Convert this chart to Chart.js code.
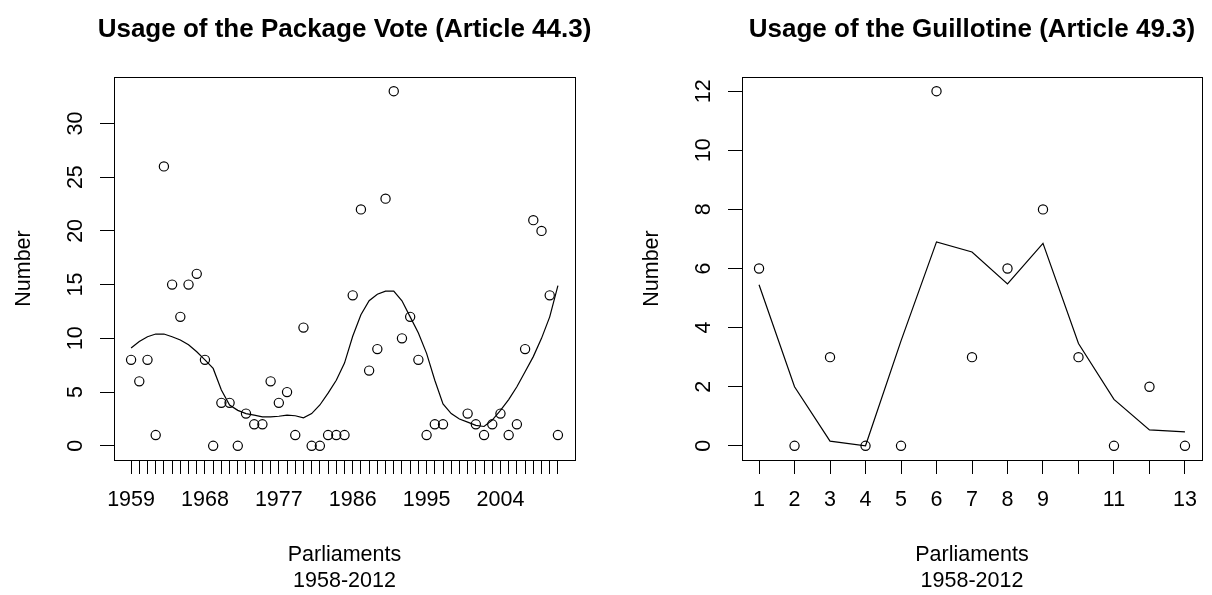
<!DOCTYPE html>
<html>
<head>
<meta charset="utf-8">
<script src="https://cdn.jsdelivr.net/npm/chart.js@4.4.1/dist/chart.umd.min.js"></script>
<style>
  html, body { margin:0; padding:0; background:#fff; }
  .wrap { width:1212px; height:595px; display:flex; }
  .panel { position:relative; width:606px; height:595px; }
</style>
</head>
<body>
<div class="wrap">
  <div class="panel"><canvas id="chartVote"></canvas></div>
  <div class="panel"><canvas id="chartGuillotine"></canvas></div>
</div>
<script>
/* ===== DATA ===== */
// Left panel: package vote (44.3), one value per year
const years = [1959,1960,1961,1962,1963,1964,1965,1966,1967,1968,
               1969,1970,1971,1972,1973,1974,1975,1976,1977,1978,
               1979,1980,1981,1982,1983,1984,1985,1986,1987,1988,
               1989,1990,1991,1992,1993,1994,1995,1996,1997,1998,
               1999,2000,2001,2002,2003,2004,2005,2006,2007,2008,
               2009,2010,2011];
const packageVotes = [8,6,8,1,26,15,12,15,16,8,
                      0,4,4,0,3,2,2,6,4,5,
                      1,11,0,0,1,1,1,14,22,7,
                      9,23,33,10,12,8,1,2,2,null,
                      null,3,2,1,2,3,1,2,9,21,
                      20,14,1];
const packageSmooth = [9.1,9.7,10.15,10.4,10.4,10.15,9.85,9.4,8.75,8.0,
                       7.2,5.2,3.8,3.3,3.0,2.85,2.7,2.7,2.75,2.85,
                       2.8,2.6,3.0,3.8,4.9,6.1,7.7,10.2,12.2,13.5,
                       14.1,14.4,14.4,13.5,12.0,10.5,8.6,6.1,3.9,3.0,
                       2.5,2.2,1.9,1.8,2.4,3.3,4.3,5.5,6.9,8.3,
                       10.0,12.0,14.9];
const yearLabels = [1959,1968,1977,1986,1995,2004];
const voteTicks = [0,5,10,15,20,25,30];

// Right panel: guillotine (49.3), one value per parliament
const parliaments = [1,2,3,4,5,6,7,8,9,10,11,12,13];
const guillotine = [6,0,3,0,0,12,3,6,8,3,0,2,0];
const guillotineSmooth = [5.45,2.0,0.16,0.0,3.55,6.9,6.56,5.48,6.85,3.46,1.57,0.54,0.47];
const parliamentLabels = [1,2,3,4,5,6,7,8,9,11,13];
const guillotineTicks = [0,2,4,6,8,10,12];

/* ===== CHARTS ===== */
const FONT = "'Liberation Sans', Arial, Helvetica, sans-serif";
const FS = 21.5;
Chart.defaults.font.family = FONT;
Chart.defaults.color = '#000';

// box around the plot + bold main title
const boxPlugin = {
  id: 'box',
  afterDraw(chart, args, opts) {
    const a = chart.chartArea, ctx = chart.ctx;
    ctx.save();
    ctx.strokeStyle = '#000';
    ctx.lineWidth = 1;
    ctx.strokeRect(Math.round(a.left) + 0.5, Math.round(a.top) + 0.5,
                   Math.round(a.right - a.left), Math.round(a.bottom - a.top));
    ctx.font = 'bold 26px ' + FONT;
    ctx.fillStyle = '#000';
    ctx.textAlign = 'center';
    ctx.textBaseline = 'middle';
    ctx.fillText(opts.title, (a.left + a.right) / 2, 30);
    ctx.restore();
  }
};

function panel(id, o) {
  const tickGrid = { drawOnChartArea:false, drawTicks:true, tickLength:14, tickColor:'#000', tickWidth:1 };
  new Chart(document.getElementById(id), {
    type: 'scatter',
    data: {
      datasets: [
        {
          data: o.xs.map((x, i) => ({ x: x, y: o.points[i] })),
          showLine: false,
          pointRadius: 4.6, pointBorderWidth: 1.2,
          pointBorderColor: '#000', pointBackgroundColor: 'rgba(0,0,0,0)'
        },
        {
          data: o.xs.map((x, i) => ({ x: x, y: o.smooth[i] })),
          showLine: true, borderColor: '#000', borderWidth: 1.2,
          pointRadius: 0, tension: 0
        }
      ]
    },
    options: {
      responsive: true, maintainAspectRatio: false, animation: false,
      layout: { padding: { left:0, right:o.padRight, top:77, bottom:0 } },
      plugins: { legend:{ display:false }, tooltip:{ enabled:false }, box:{ title:o.title } },
      scales: {
        x: {
          type: 'linear', min: o.xMin, max: o.xMax,
          afterBuildTicks: s => { s.ticks = o.xs.map(v => ({ value: v })); },
          afterFit: s => { s.height = 135; },
          grid: tickGrid,
          border: { display:false },
          ticks: {
            autoSkip:false, minRotation:0, maxRotation:0, padding:13,
            font: { size:FS, lineHeight:1.2 },
            callback: v => o.xLabels.includes(v) ? String(v) : ''
          },
          title: { display:true, text:['Parliaments', '1958-2012'],
                   font:{ size:FS, lineHeight:1.25 }, padding:{ top:0, bottom:0 } }
        },
        y: {
          min: o.yMin, max: o.yMax,
          afterBuildTicks: s => { s.ticks = o.yTicks.map(v => ({ value: v })); },
          afterFit: s => { s.width = o.yWidth; },
          grid: tickGrid,
          border: { display:false },
          ticks: {
            autoSkip:false, minRotation:90, maxRotation:90, crossAlign:'center',
            padding:12, font:{ size:FS, lineHeight:1.2 }
          },
          title: { display:true, text:'Number', font:{ size:FS, lineHeight:1.2 },
                   padding:{ top:o.yTitlePad, bottom:0 } }
        }
      }
    },
    plugins: [boxPlugin]
  });
}

panel('chartVote', {
  title: 'Usage of the Package Vote (Article 44.3)',
  xs: years, points: packageVotes, smooth: packageSmooth,
  xLabels: yearLabels, yTicks: voteTicks,
  xMin: 1956.92, xMax: 2013.08, yMin: -1.32, yMax: 34.32,
  yWidth: 114, padRight: 31, yTitlePad: 11.1
});

panel('chartGuillotine', {
  title: 'Usage of the Guillotine (Article 49.3)',
  xs: parliaments, points: guillotine, smooth: guillotineSmooth,
  xLabels: parliamentLabels, yTicks: guillotineTicks,
  xMin: 0.52, xMax: 13.48, yMin: -0.48, yMax: 12.48,
  yWidth: 136, padRight: 10, yTitlePad: 33.1
});
</script>
</body>
</html>
